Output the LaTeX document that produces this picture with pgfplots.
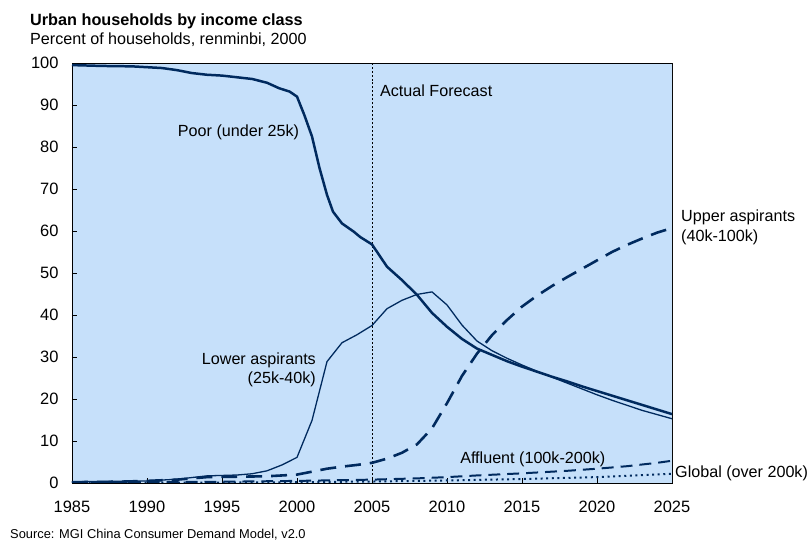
\documentclass[border=0pt]{standalone}
\usepackage{fontspec}
\setmainfont{Liberation Sans}
\usepackage{pgfplots}
\usepackage{pgfplotstable}
\pgfplotsset{compat=1.18}

\definecolor{bgblue}{RGB}{198,224,250}
\definecolor{navy}{RGB}{0,42,94}

% Share of urban households (percent) by income class
\pgfplotstableread{
year  val
1985   99.5
1987   99.3
1989   99.2
1990   99.0
1991   98.8
1992   98.3
1993   97.6
1994   97.2
1995   97.0
1996   96.6
1997   96.2
1998   95.3
1998.8 94.0
1999.5 93.2
2000   92.0
2000.5 87.5
2001   82.5
2001.5 75.0
2002   68.6
2002.4 64.6
2003   61.8
2003.8 59.8
2004.2 58.6
2005   56.8
2006   51.5
2007   48.3
2008   44.8
2009   40.5
2010   37.2
2011   34.3
2012   32.0
2013   30.5
2014   29.0
2015   27.7
2016   26.5
2017   25.3
2018   24.2
2019   23.0
2020   21.9
2021   20.8
2022   19.7
2023   18.6
2024   17.5
2025   16.4
}\tabPoor

\pgfplotstableread{
year val
1985  0.3
1988  0.4
1990  0.5
1992  0.9
1994  1.7
1996  1.9
1997  2.2
1998  2.9
1999  4.3
2000  6.1
2001 14.9
2002 28.9
2003 33.4
2004 35.3
2005 37.5
2006 41.5
2007 43.5
2008 44.9
2009 45.5
2010 42.4
2011 37.6
2012 33.8
2013 31.5
2014 29.7
2015 28.1
2016 26.6
2017 25.2
2018 23.8
2019 22.4
2020 21.0
2021 19.7
2022 18.5
2023 17.3
2024 16.3
2025 15.3
}\tabLowerAsp

\pgfplotstableread{
year val
1985  0.2
1988  0.3
1990  0.5
1992  0.8
1994  1.4
1996  1.5
1998  1.6
2000  2.0
2001  2.7
2002  3.4
2003  3.9
2004  4.3
2005  4.8
2006  5.8
2007  7.2
2008  9.2
2009 13.0
2010 19.0
2011 25.5
2012 30.8
2013 35.2
2014 38.8
2015 42.0
2016 44.6
2017 46.9
2018 49.0
2019 51.0
2020 53.0
2021 55.0
2022 56.7
2023 58.2
2024 59.6
2025 60.7
}\tabUpperAsp

\pgfplotstableread{
year val
1985 0.1
1990 0.2
1995 0.3
2000 0.5
2005 0.8
2008 1.1
2010 1.4
2012 1.8
2015 2.3
2018 2.9
2020 3.4
2022 4.0
2024 4.8
2025 5.3
}\tabAffluent

\pgfplotstableread{
year val
1985 0.05
1995 0.1
2000 0.2
2005 0.35
2010 0.6
2015 0.95
2020 1.4
2025 2.2
}\tabGlobalCls

\begin{document}
\begin{tikzpicture}[font=\fontsize{16.2}{19}\selectfont]
\useasboundingbox (-72bp,-62bp) rectangle (739bp,483bp);
\begin{axis}[
  at={(0,0)}, anchor=south west,
  scale only axis, width=600bp, height=420bp,
  xmin=1985, xmax=2025, ymin=0, ymax=100,
  xtick={1985,1990,...,2025},
  ytick={0,10,...,100},
  tick pos=left, tick align=inside,
  major tick length=5bp,
  tick style={black, line width=0.6pt},
  axis line style={black, line width=0.8pt},
  axis background/.style={fill=bgblue},
  /pgf/number format/.cd, assume math mode=true, 1000 sep={},
  /pgfplots/.cd,
  ticklabel style={font=\fontsize{16.5}{19}\selectfont},
  xticklabel style={yshift=-15bp},
  yticklabel style={xshift=-10bp},
  every axis plot/.append style={navy, line join=round},
]
% forecast divider
\draw[black, line width=0.6pt, dash pattern=on 2pt off 2pt]
  (axis cs:2005,0) -- (axis cs:2005,100);

\addplot[line width=2pt, dash pattern=on 2pt off 3.6pt] table[x=year,y=val] {\tabGlobalCls};
\addplot[line width=2pt, dash pattern=on 12pt off 7pt] table[x=year,y=val] {\tabAffluent};
\addplot[line width=2.6pt, dash pattern=on 16pt off 9pt] table[x=year,y=val] {\tabUpperAsp};
\addplot[line width=1.3pt] table[x=year,y=val] {\tabLowerAsp};
\addplot[line width=2.5pt] table[x=year,y=val] {\tabPoor};

\draw[gray!60!black, line width=0.8pt] (rel axis cs:1,0) -- (rel axis cs:1,1);

\node[anchor=base west, inner sep=0] at (axis cs:2005.53,91.98) {Actual Forecast};
\node[anchor=base west, inner sep=0] at (axis cs:1992.05,82.45) {Poor (under 25k)};
\node[anchor=base east, inner sep=0] at (axis cs:2001.27,28.1) {Lower aspirants};
\node[anchor=base east, inner sep=0] at (axis cs:2001.27,23.6) {(25k-40k)};
\node[anchor=base west, inner sep=0] at (axis cs:2010.87,4.69) {Affluent (100k-200k)};
\end{axis}

% labels beyond the right edge of the plot
\node[anchor=base west, inner sep=0] at (609bp,261.3bp) {Upper aspirants};
\node[anchor=base west, inner sep=0] at (609bp,241bp) {(40k-100k)};
\node[anchor=base west, inner sep=0] at (603bp,5.7bp) {Global (over 200k)};

% titles and source
\node[anchor=base west, inner sep=0, font=\fontsize{16.3}{19}\selectfont\bfseries] at (-42bp,457bp) {Urban households by income class};
\node[anchor=base west, inner sep=0] at (-42bp,438.7bp) {Percent of households, renminbi, 2000};
\node[anchor=base west, inner sep=0, font=\fontsize{12.9}{15}\selectfont] at (-62bp,-55bp) {Source: MGI China Consumer Demand Model, v2.0};
\end{tikzpicture}
\end{document}
